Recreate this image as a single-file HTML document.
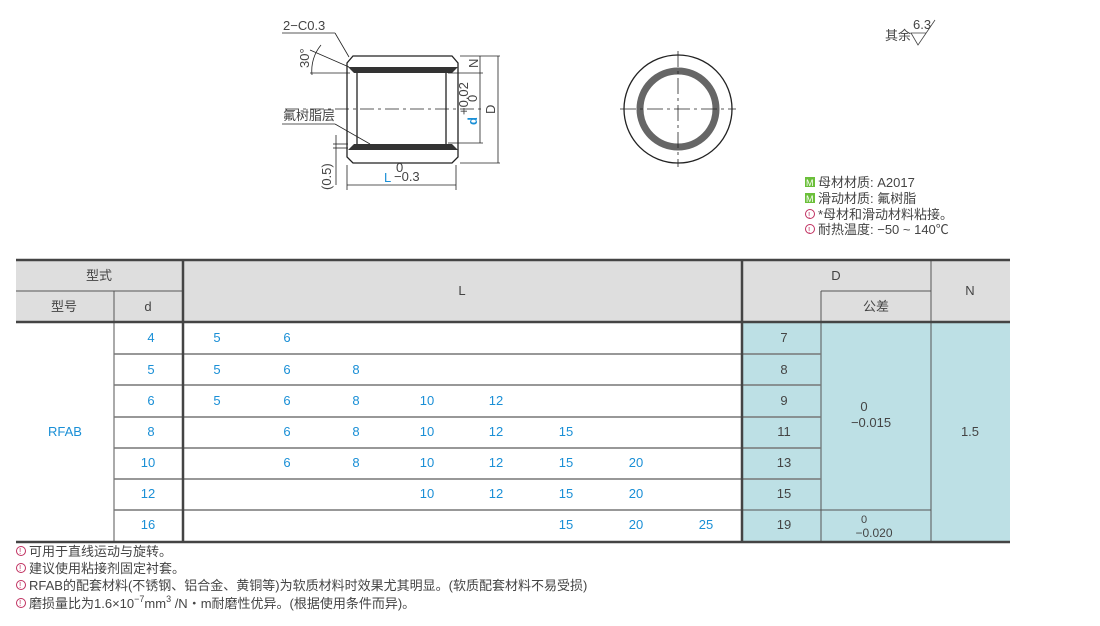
<!DOCTYPE html><html><head><meta charset="utf-8"><style>
html,body{margin:0;padding:0;background:#fff;width:1100px;height:626px;overflow:hidden}
svg{display:block;font-family:"Liberation Sans","Noto Sans CJK SC",sans-serif}
.b{fill:#1a8fd6;font-size:13px}
.g{fill:#444;font-size:13px}
</style></head><body>
<svg width="1100" height="626" viewBox="0 0 1100 626">
<!-- side drawing -->
<g stroke="#222" fill="none" stroke-width="1.3">
<polygon points="353,56 452,56 458,63 458,157 452,163 353,163 347,157 347,63"/>
<line x1="357" y1="73" x2="357" y2="144"/><line x1="446" y1="73" x2="446" y2="144"/>
</g>
<polygon points="348,67 458,67 452,73 354,73" fill="#333"/>
<polygon points="354,144 452,144 458,150 348,150" fill="#333"/>
<g stroke="#222" stroke-width="0.8" fill="none">
<line x1="285" y1="109" x2="485" y2="109" stroke-dasharray="14,4,3,4"/>
<line x1="282" y1="33" x2="335" y2="33"/><line x1="335" y1="33" x2="349" y2="57"/>
<line x1="310" y1="50" x2="349" y2="67"/><line x1="310" y1="73" x2="350" y2="73"/>
<path d="M321,45 A40,40 0 0 0 312,75"/>
<line x1="282" y1="124" x2="335" y2="124"/><line x1="335" y1="124" x2="370" y2="144"/>
<line x1="336" y1="135" x2="336" y2="185"/><line x1="333" y1="144" x2="348" y2="144"/><line x1="333" y1="148" x2="348" y2="148"/>
<line x1="347" y1="165" x2="347" y2="190"/><line x1="456" y1="165" x2="456" y2="190"/>
<line x1="347" y1="185" x2="456" y2="185"/>
<line x1="460" y1="56" x2="500" y2="56"/><line x1="460" y1="163" x2="500" y2="163"/>
<line x1="448" y1="73" x2="483" y2="73"/><line x1="448" y1="143" x2="483" y2="143"/>
<line x1="480" y1="56" x2="480" y2="73"/><line x1="480" y1="73" x2="480" y2="143"/><line x1="498" y1="56" x2="498" y2="163"/>
</g>
<text x="283" y="30" class="g" font-size="12">2−C0.3</text>
<text x="0" y="0" class="g" font-size="12" transform="translate(309,68) rotate(-90)">30°</text>
<text x="283" y="120" class="g" font-size="13">氟树脂层</text>
<text x="0" y="0" class="g" font-size="12" transform="translate(331,190) rotate(-90)">(0.5)</text>
<text x="396" y="172" class="g" font-size="9">0</text>
<text x="384" y="182" class="b" font-size="14">L</text><text x="394" y="181" class="g" font-size="10">−0.3</text>
<text x="0" y="0" class="g" font-size="11" transform="translate(478,68) rotate(-90)">N</text>
<text x="0" y="0" class="b" font-size="14" font-weight="bold" transform="translate(477,125) rotate(-90)">d</text>
<text x="0" y="0" class="g" font-size="8" transform="translate(468,115) rotate(-90)">+0.02</text>
<text x="0" y="0" class="g" font-size="8" transform="translate(477,102) rotate(-90)">0</text>
<text x="0" y="0" class="g" font-size="12" transform="translate(495,114) rotate(-90)">D</text>
<!-- front view -->
<circle cx="678" cy="109" r="54" fill="none" stroke="#222" stroke-width="1.3"/>
<circle cx="678" cy="109" r="38" fill="none" stroke="#666" stroke-width="7"/>
<g stroke="#222" stroke-width="0.8"><line x1="620" y1="109" x2="736" y2="109" stroke-dasharray="16,4,3,4"/><line x1="678" y1="51" x2="678" y2="167" stroke-dasharray="16,4,3,4"/></g>
<!-- roughness -->
<text x="885" y="40" class="g" font-size="10">其余</text>
<text x="913" y="29" class="g" font-size="8">6.3</text>
<polyline points="935,20 918,45 911,33 926,33" fill="none" stroke="#444" stroke-width="0.8"/>
<!-- material notes -->
<g font-size="13" class="g">
<rect x="805" y="177" width="10" height="10" fill="#6bbf3a"/><text x="806" y="186" fill="#fff" font-size="9">M</text>
<text x="818" y="187" class="g">母材材质: A2017</text>
<rect x="805" y="193" width="10" height="10" fill="#6bbf3a"/><text x="806" y="202" fill="#fff" font-size="9">M</text>
<text x="818" y="203" class="g">滑动材质: 氟树脂</text>
<circle cx="810" cy="214" r="4.5" fill="none" stroke="#c03060"/><text x="808" y="218" fill="#c03060" font-size="8">!</text>
<text x="818" y="219" class="g">*母材和滑动材料粘接。</text>
<circle cx="810" cy="229" r="4.5" fill="none" stroke="#c03060"/><text x="808" y="233" fill="#c03060" font-size="8">!</text>
<text x="818" y="234" class="g">耐热温度: −50 ~ 140℃</text>
</g>
<!-- table -->
<rect x="16" y="260" width="994" height="62" fill="#dedede"/>
<rect x="742" y="322" width="268" height="219" fill="#bde0e5"/>
<g stroke="#555" stroke-width="1">
<line x1="16" y1="291" x2="183" y2="291"/><line x1="821" y1="291" x2="931" y2="291"/>
<line x1="114" y1="291" x2="114" y2="541"/><line x1="821" y1="291" x2="821" y2="541"/><line x1="931" y1="260" x2="931" y2="541"/>
<line x1="742" y1="510" x2="931" y2="510"/>
</g>
<g stroke="#777" stroke-width="1.5">
<line x1="114" y1="354" x2="821" y2="354"/><line x1="114" y1="385" x2="821" y2="385"/><line x1="114" y1="417" x2="821" y2="417"/>
<line x1="114" y1="448" x2="821" y2="448"/><line x1="114" y1="479" x2="821" y2="479"/><line x1="114" y1="510" x2="742" y2="510"/>
</g>
<g stroke="#444" stroke-width="2.5">
<line x1="16" y1="260" x2="1010" y2="260"/><line x1="16" y1="322" x2="1010" y2="322"/><line x1="16" y1="542" x2="1010" y2="542"/>
<line x1="183" y1="260" x2="183" y2="542"/><line x1="742" y1="260" x2="742" y2="542"/>
</g>
<g class="g" text-anchor="middle">
<text x="99" y="280">型式</text><text x="64" y="311">型号</text><text x="148" y="311">d</text>
<text x="462" y="295">L</text><text x="836" y="280">D</text><text x="876" y="311">公差</text><text x="970" y="295">N</text>
<text x="784" y="342">7</text><text x="784" y="374">8</text><text x="784" y="405">9</text><text x="784" y="436">11</text>
<text x="784" y="467">13</text><text x="784" y="498">15</text><text x="784" y="529">19</text>
<text x="864" y="411">0</text><text x="871" y="427">−0.015</text>
<text x="864" y="523" font-size="11">0</text><text x="874" y="537" font-size="12">−0.020</text>
<text x="970" y="436">1.5</text>
</g>
<g class="b" text-anchor="middle">
<text x="65" y="436">RFAB</text>
<text x="151" y="342">4</text><text x="151" y="374">5</text><text x="151" y="405">6</text><text x="151" y="436">8</text>
<text x="148" y="467">10</text><text x="148" y="498">12</text><text x="148" y="529">16</text>
<text x="217" y="342">5</text><text x="287" y="342">6</text>
<text x="217" y="374">5</text><text x="287" y="374">6</text><text x="356" y="374">8</text>
<text x="217" y="405">5</text><text x="287" y="405">6</text><text x="356" y="405">8</text><text x="427" y="405">10</text><text x="496" y="405">12</text>
<text x="287" y="436">6</text><text x="356" y="436">8</text><text x="427" y="436">10</text><text x="496" y="436">12</text><text x="566" y="436">15</text>
<text x="287" y="467">6</text><text x="356" y="467">8</text><text x="427" y="467">10</text><text x="496" y="467">12</text><text x="566" y="467">15</text><text x="636" y="467">20</text>
<text x="427" y="498">10</text><text x="496" y="498">12</text><text x="566" y="498">15</text><text x="636" y="498">20</text>
<text x="566" y="529">15</text><text x="636" y="529">20</text><text x="706" y="529">25</text>
</g>
<!-- footnotes -->
<g class="g" font-size="13">
<g fill="none" stroke="#c03060"><circle cx="21" cy="551" r="4.5"/><circle cx="21" cy="568" r="4.5"/><circle cx="21" cy="585" r="4.5"/><circle cx="21" cy="603" r="4.5"/></g>
<g fill="#c03060" font-size="8"><text x="19" y="554">!</text><text x="19" y="571">!</text><text x="19" y="588">!</text><text x="19" y="606">!</text></g>
<text x="29" y="556">可用于直线运动与旋转。</text>
<text x="29" y="573">建议使用粘接剂固定衬套。</text>
<text x="29" y="590">RFAB的配套材料(不锈钢、铝合金、黄铜等)为软质材料时效果尤其明显。(软质配套材料不易受损)</text>
<text x="29" y="608">磨损量比为1.6×10<tspan font-size="9" dy="-6">−7</tspan><tspan dy="6">mm</tspan><tspan font-size="9" dy="-6">3</tspan><tspan dy="6"> /N・m耐磨性优异。(根据使用条件而异)。</tspan></text>
</g>
</svg>
</body></html>
